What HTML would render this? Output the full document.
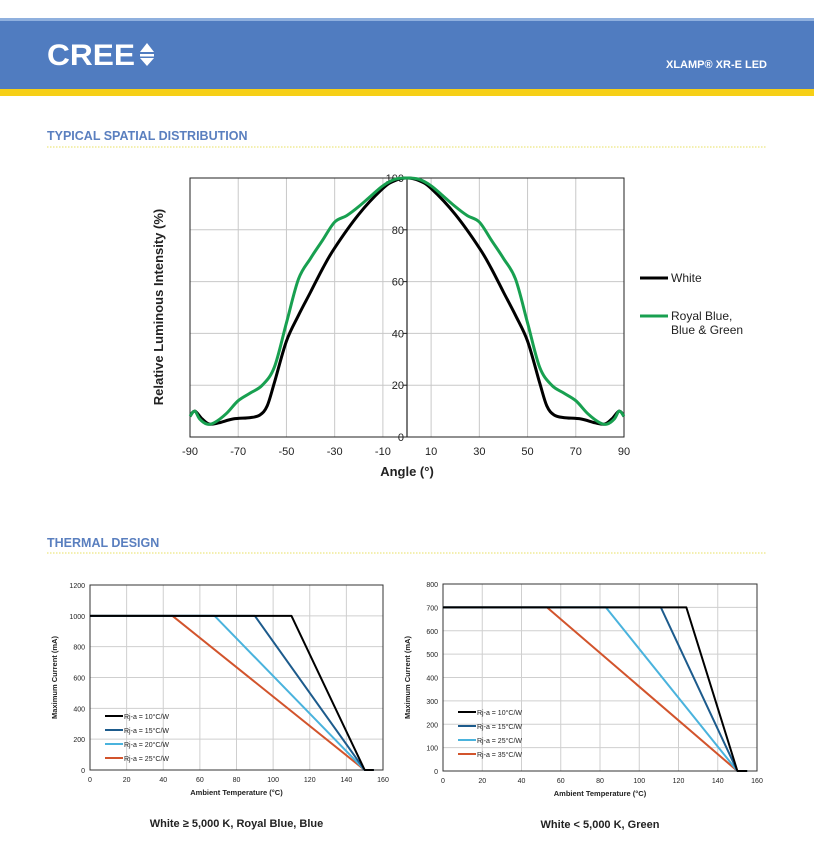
<!DOCTYPE html>
<html><head><meta charset="utf-8"><style>
body{margin:0;width:814px;height:856px;background:#fff;font-family:"Liberation Sans",sans-serif;overflow:hidden}
</style></head><body>
<svg id="s" width="814" height="856" xmlns="http://www.w3.org/2000/svg" font-family="Liberation Sans, sans-serif">
<rect x="0" y="18" width="814" height="72" fill="#507cc0"/>
<rect x="0" y="18" width="814" height="3" fill="#8fb0de"/>
<rect x="0" y="89" width="814" height="7" fill="#f6cf16"/>
<text x="47" y="65" font-size="30" font-weight="bold" fill="#fff" textLength="88" lengthAdjust="spacingAndGlyphs">CREE</text>
<polygon points="140,52 154,52 147,43" fill="#fff"/><rect x="140" y="54" width="14" height="2.5" fill="#fff"/><polygon points="140,58 154,58 147,66" fill="#fff"/>
<text x="767" y="68" font-size="11" font-weight="bold" fill="#fff" text-anchor="end">XLAMP® XR-E LED</text>
<text x="47" y="140" font-size="12.5" font-weight="bold" fill="#5a7fbf">TYPICAL SPATIAL DISTRIBUTION</text>
<line x1="47" y1="147" x2="767" y2="147" stroke="#e8e060" stroke-dasharray="1.5,1.5"/>
<text x="47" y="547" font-size="12.5" font-weight="bold" fill="#5a7fbf">THERMAL DESIGN</text>
<line x1="47" y1="553" x2="767" y2="553" stroke="#e8e060" stroke-dasharray="1.5,1.5"/>
<g id="g"></g>
</svg>
<script>
const g=document.getElementById('g');let h='';
function L(x1,y1,x2,y2,c,w){h+=`<line x1="${x1}" y1="${y1}" x2="${x2}" y2="${y2}" stroke="${c}" stroke-width="${w}"/>`}
function T(x,y,t,s,a,wt,extra){h+=`<text x="${x}" y="${y}" font-size="${s}" text-anchor="${a||'start'}" font-weight="${wt||'normal'}" fill="#222" ${extra||''}>${t}</text>`}
function P(pts,c,w){h+=`<polyline points="${pts.map(p=>p.join(',')).join(' ')}" fill="none" stroke="${c}" stroke-width="${w}" stroke-linejoin="round"/>`}
function S(p,c,w){let d=`M${p[0][0]},${p[0][1]}`;for(let i=0;i<p.length-1;i++){const a=p[Math.max(i-1,0)],b=p[i],e=p[i+1],f=p[Math.min(i+2,p.length-1)];
 const c1=[b[0]+(e[0]-a[0])/6,b[1]+(e[1]-a[1])/6],c2=[e[0]-(f[0]-b[0])/6,e[1]-(f[1]-b[1])/6];
 d+=` C${c1[0].toFixed(1)},${c1[1].toFixed(1)} ${c2[0].toFixed(1)},${c2[1].toFixed(1)} ${e[0]},${e[1]}`;}
 h+=`<path d="${d}" fill="none" stroke="${c}" stroke-width="${w}"/>`}
const X0=190,X1=624,Y0=437,Y1=178;
const ax=a=>X0+(a+90)*(X1-X0)/180, ay=v=>Y0-v*(Y0-Y1)/100;
for(let a=-70;a<=70;a+=20){L(ax(a),Y1,ax(a),Y0,'#c8c8c8',1);}
for(let v=20;v<=80;v+=20){L(X0,ay(v),X1,ay(v),'#c8c8c8',1);}
h+=`<rect x="${X0}" y="${Y1}" width="${X1-X0}" height="${Y0-Y1}" fill="none" stroke="#222" stroke-width="1"/>`;
L(ax(0),Y1,ax(0),Y0,'#222',1.2);
for(let v=0;v<=100;v+=20)L(ax(0)-4,ay(v),ax(0),ay(v),'#222',1);
for(let a=-90;a<=90;a+=20)T(ax(a),455,a,11,'middle');
for(let v=0;v<=100;v+=20)T(ax(0)-3,ay(v)+4,v,11,'end');
T(407,476,'Angle (°)',13,'middle','bold');
T(0,0,'Relative Luminous Intensity (%)',13,'middle','bold','transform="translate(163,307) rotate(-90)"');
const W=[[0,100],[5,99],[10,96],[20,86],[30,73],[35,65],[40,56],[45,47],[50,37],[55,21],[58,12],[61,8.5],[65,7.5],[72,7],[78,5.5],[82,5],[85,7],[88,10],[90,8]];
const G=[[0,100],[5,99.5],[10,97],[15,93],[20,89],[25,85.5],[30,83],[35,76],[40,69],[45,61],[50,44],[55,27],[60,20],[65,17],[70,14],[75,9],[80,5.5],[83,5],[86,7],[88,10],[90,8]];
const sym=d=>{const l=d.slice().reverse().map(p=>[-p[0],p[1]]);return l.concat(d.slice(1)).map(p=>[+ax(p[0]).toFixed(1),+ay(p[1]).toFixed(1)])};
S(sym(W),'#000',3);S(sym(G),'#18a050',3);
L(640,278,668,278,'#000',3);T(671,282,'White',12);
L(640,316,668,316,'#18a050',3);T(671,320,'Royal Blue,',12);T(671,334,'Blue &amp; Green',12);
function chart(x0,x1,y0,y1,ymax,ystep,lines,labels,title){
 const fx=t=>x0+t*(x1-x0)/160, fy=v=>y0-v*(y0-y1)/ymax;
 for(let t=20;t<160;t+=20)L(fx(t),y1,fx(t),y0,'#cfcfcf',1);
 for(let v=ystep;v<ymax;v+=ystep)L(x0,fy(v),x1,fy(v),'#cfcfcf',1);
 h+=`<rect x="${x0}" y="${y1}" width="${x1-x0}" height="${y0-y1}" fill="none" stroke="#333" stroke-width="1"/>`;
 for(let t=0;t<=160;t+=20)T(fx(t),y0+12,t,7,'middle');
 for(let v=0;v<=ymax;v+=ystep)T(x0-5,fy(v)+3,v,7,'end');
 T((x0+x1)/2,y0+25,'Ambient Temperature (°C)',7.5,'middle','bold');
 T(0,0,'Maximum Current (mA)',7.5,'middle','bold',`transform="translate(${x0-33},${(y0+y1)/2}) rotate(-90)"`);
 const cols=['#000','#1d5b8c','#4ab3dd','#d2542c'];
 for(let i=3;i>=0;i--){const k=lines[i];P([[fx(0),fy(k[1])],[fx(k[0]),fy(k[1])],[fx(150),fy(0)],[fx(155),fy(0)]],cols[i],2);}
 labels.forEach((lb,i)=>{const yy=lines.ly+i*14;L(x0+15,yy,x0+33,yy,cols[i],2);T(x0+34,yy+3,lb,7);});
 T((x0+x1)/2,y0+57,title,11,'middle','bold');
}
let l1=[[110,1000],[90,1000],[68,1000],[45,1000]];l1.ly=716;
chart(90,383,770,585,1200,200,l1,['Rj-a = 10°C/W','Rj-a = 15°C/W','Rj-a = 20°C/W','Rj-a = 25°C/W'],'White ≥ 5,000 K, Royal Blue, Blue');
let l2=[[124,700],[111,700],[83,700],[53,700]];l2.ly=712;
chart(443,757,771,584,800,100,l2,['Rj-a = 10°C/W','Rj-a = 15°C/W','Rj-a = 25°C/W','Rj-a = 35°C/W'],'White &lt; 5,000 K, Green');
g.innerHTML=h;
</script>
</body></html>
